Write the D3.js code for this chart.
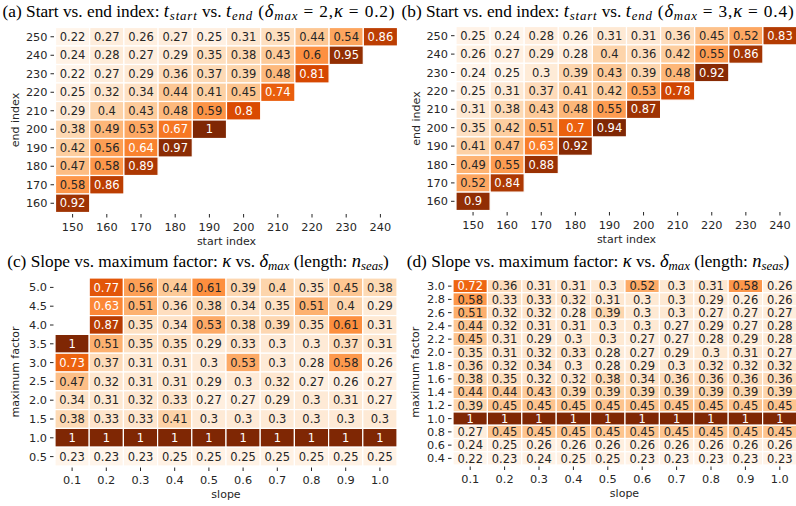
<!DOCTYPE html>
<html>
<head>
<meta charset="utf-8">
<script src="https://cdn.jsdelivr.net/npm/d3@7"></script>
<style>
body { margin: 0; background: #fff; }
text { font-family: "DejaVu Sans", sans-serif; }
text.title { font-family: "Liberation Serif", serif; }
</style>
</head>
<body>
<svg id="fig" width="796" height="506"></svg>
<script>
// ---- data ----
const startIndex = [150, 160, 170, 180, 190, 200, 210, 220, 230, 240]
const endIndex = [250, 240, 230, 220, 210, 200, 190, 180, 170, 160]

// rows = end index (top to bottom), cols = start index; missing cells left out
const indexA = [
    [0.22, 0.27, 0.26, 0.27, 0.25, 0.31, 0.35, 0.44, 0.54, 0.86],
    [0.24, 0.28, 0.27, 0.29, 0.35, 0.38, 0.43, 0.6, 0.95],
    [0.22, 0.27, 0.29, 0.36, 0.37, 0.39, 0.48, 0.81],
    [0.25, 0.32, 0.34, 0.44, 0.41, 0.45, 0.74],
    [0.29, 0.4, 0.43, 0.48, 0.59, 0.8],
    [0.38, 0.49, 0.53, 0.67, 1],
    [0.42, 0.56, 0.64, 0.97],
    [0.47, 0.58, 0.89],
    [0.58, 0.86],
    [0.92]
]
const indexB = [
    [0.25, 0.24, 0.28, 0.26, 0.31, 0.31, 0.36, 0.45, 0.52, 0.83],
    [0.26, 0.27, 0.29, 0.28, 0.4, 0.36, 0.42, 0.55, 0.86],
    [0.24, 0.25, 0.3, 0.39, 0.43, 0.39, 0.48, 0.92],
    [0.25, 0.31, 0.37, 0.41, 0.42, 0.53, 0.78],
    [0.31, 0.38, 0.43, 0.48, 0.55, 0.87],
    [0.35, 0.42, 0.51, 0.7, 0.94],
    [0.41, 0.47, 0.63, 0.92],
    [0.49, 0.55, 0.88],
    [0.52, 0.84],
    [0.9]
]

const slopes = [0.1, 0.2, 0.3, 0.4, 0.5, 0.6, 0.7, 0.8, 0.9, 1.0]
const factorsC = [5.0, 4.5, 4.0, 3.5, 3.0, 2.5, 2.0, 1.5, 1.0, 0.5]
const factorsD = [3.0, 2.8, 2.6, 2.4, 2.2, 2.0, 1.8, 1.6, 1.4, 1.2, 1.0, 0.8, 0.6, 0.4]

const slopeC = [
    [null, 0.77, 0.56, 0.44, 0.61, 0.39, 0.4, 0.35, 0.45, 0.38],
    [null, 0.63, 0.51, 0.36, 0.38, 0.34, 0.35, 0.51, 0.4, 0.29],
    [null, 0.87, 0.35, 0.34, 0.53, 0.38, 0.39, 0.35, 0.61, 0.31],
    [1, 0.51, 0.35, 0.35, 0.29, 0.33, 0.3, 0.3, 0.37, 0.31],
    [0.73, 0.37, 0.31, 0.31, 0.3, 0.53, 0.3, 0.28, 0.58, 0.26],
    [0.47, 0.32, 0.31, 0.31, 0.29, 0.3, 0.32, 0.27, 0.26, 0.27],
    [0.34, 0.31, 0.32, 0.33, 0.27, 0.27, 0.29, 0.3, 0.31, 0.27],
    [0.38, 0.33, 0.33, 0.41, 0.3, 0.3, 0.3, 0.3, 0.3, 0.3],
    [1, 1, 1, 1, 1, 1, 1, 1, 1, 1],
    [0.23, 0.23, 0.23, 0.25, 0.25, 0.25, 0.25, 0.25, 0.25, 0.25]
]
const slopeD = [
    [0.72, 0.36, 0.31, 0.31, 0.3, 0.52, 0.3, 0.31, 0.58, 0.26],
    [0.58, 0.33, 0.33, 0.32, 0.31, 0.3, 0.3, 0.29, 0.26, 0.26],
    [0.51, 0.32, 0.32, 0.28, 0.39, 0.3, 0.3, 0.27, 0.27, 0.27],
    [0.44, 0.32, 0.31, 0.31, 0.3, 0.3, 0.27, 0.29, 0.27, 0.28],
    [0.45, 0.31, 0.29, 0.3, 0.3, 0.27, 0.27, 0.28, 0.29, 0.28],
    [0.35, 0.31, 0.32, 0.33, 0.28, 0.27, 0.29, 0.3, 0.31, 0.27],
    [0.36, 0.32, 0.34, 0.3, 0.28, 0.29, 0.3, 0.32, 0.32, 0.32],
    [0.38, 0.35, 0.32, 0.32, 0.38, 0.34, 0.36, 0.36, 0.36, 0.36],
    [0.44, 0.44, 0.43, 0.39, 0.39, 0.39, 0.39, 0.39, 0.39, 0.39],
    [0.39, 0.45, 0.45, 0.45, 0.45, 0.45, 0.45, 0.45, 0.45, 0.45],
    [1, 1, 1, 1, 1, 1, 1, 1, 1, 1],
    [0.27, 0.45, 0.45, 0.45, 0.45, 0.45, 0.45, 0.45, 0.45, 0.45],
    [0.24, 0.25, 0.26, 0.26, 0.26, 0.26, 0.26, 0.26, 0.26, 0.26],
    [0.22, 0.23, 0.24, 0.25, 0.25, 0.23, 0.23, 0.23, 0.23, 0.23]
]

// matplotlib "Oranges" stops
const oranges = ["#fff5eb", "#fee6ce", "#fdd0a2", "#fdae6b", "#fd8d3c",
    "#f16913", "#d94801", "#a63603", "#7f2704"]

const svg = d3.select("#fig")
const annot = d3.format(".2~g")

// relative luminance like matplotlib, to pick text colour like seaborn
function luminance(c) {
    const rgb = d3.rgb(c)
    const lin = v => {
        v = v / 255
        return v <= 0.03928 ? v / 12.92 : Math.pow((v + 0.055) / 1.055, 2.4)
    }
    return 0.2126 * lin(rgb.r) + 0.7152 * lin(rgb.g) + 0.0722 * lin(rgb.b)
}

function heatmap(o) {
    const g = svg.append("g")
    const x = d3.scaleBand().domain(o.cols).range([o.x0, o.x1])
    const y = d3.scaleBand().domain(o.rows).range([o.y0, o.y1])

    const cells = []
    o.values.forEach((row, i) => {
        row.forEach((v, j) => {
            if (v != null) cells.push({ r: o.rows[i], c: o.cols[j], v: v })
        })
    })
    const ext = d3.extent(cells, d => d.v)
    const color = d3.scaleLinear()
        .domain(d3.range(9).map(k => ext[0] + (ext[1] - ext[0]) * k / 8))
        .range(oranges)

    g.selectAll("rect")
        .data(cells)
        .enter()
        .append("rect")
        .attr("x", d => x(d.c))
        .attr("y", d => y(d.r))
        .attr("width", x.bandwidth())
        .attr("height", y.bandwidth())
        .attr("fill", d => color(d.v))
        .attr("stroke", "#fff")
        .attr("stroke-width", 1.2)

    g.selectAll("text.val")
        .data(cells)
        .enter()
        .append("text")
        .attr("class", "val")
        .attr("x", d => x(d.c) + x.bandwidth() / 2)
        .attr("y", d => y(d.r) + y.bandwidth() / 2)
        .attr("dy", "0.36em")
        .attr("text-anchor", "middle")
        .style("font-size", "11.5px")
        .attr("fill", d => luminance(color(d.v)) > 0.408 ? "#262626" : "#fff")
        .text(d => annot(d.v))

    // x axis
    const xa = g.append("g")
    o.cols.forEach(c => {
        const cx = x(c) + x.bandwidth() / 2
        xa.append("line")
            .attr("x1", cx).attr("x2", cx)
            .attr("y1", o.y1 + 1.5).attr("y2", o.y1 + 5)
            .attr("stroke", "#262626").attr("stroke-width", 1)
        xa.append("text")
            .attr("x", cx).attr("y", o.y1 + 14)
            .attr("dy", "0.36em")
            .attr("text-anchor", "middle")
            .style("font-size", "11.3px")
            .attr("fill", "#262626")
            .text(o.colFmt(c))
    })
    // y axis
    o.rows.forEach(r => {
        const cy = y(r) + y.bandwidth() / 2
        xa.append("line")
            .attr("x1", o.x0 - 5).attr("x2", o.x0 - 1.5)
            .attr("y1", cy).attr("y2", cy)
            .attr("stroke", "#262626").attr("stroke-width", 1)
        xa.append("text")
            .attr("x", o.x0 - 8).attr("y", cy)
            .attr("dy", "0.36em")
            .attr("text-anchor", "end")
            .style("font-size", "11.3px")
            .attr("fill", "#262626")
            .text(o.rowFmt(r))
    })

    g.append("text")
        .attr("x", (o.x0 + Math.min(o.x1, 796)) / 2 + (o.xLabelShift || 0))
        .attr("y", o.y1 + 28.5)
        .attr("dy", "0.36em")
        .attr("text-anchor", "middle")
        .style("font-size", "11px")
        .attr("fill", "#262626")
        .text(o.xLabel)
    g.append("text")
        .attr("transform", `translate(${o.yLabelX},${(o.y0 + o.y1) / 2}) rotate(-90)`)
        .attr("dy", "0.36em")
        .attr("text-anchor", "middle")
        .style("font-size", "11px")
        .attr("fill", "#262626")
        .text(o.yLabel)

    // title: roman text fixed, math pieces get the leftover width as spacing
    const t = svg.append("text")
        .attr("class", "title")
        .attr("x", o.tx).attr("y", o.ty)
        .attr("text-anchor", "middle")
        .attr("fill", "#000")
    let lowered = false
    const mathSpans = []
    o.title.forEach(p => {
        const s = t.append("tspan").text(p.t)
        let size = 17.3
        if (p.i) { s.style("font-style", "italic"); size = 18.5 }
        if (p.m) size = 17.3
        if (p.sub) {
            s.style("font-style", "italic")
            size = 12.8
            if (!lowered) { s.attr("dy", 3.8); lowered = true }
        } else if (lowered) {
            s.attr("dy", -3.8); lowered = false
        }
        s.style("font-size", size + "px")
        if (p.i || p.m || p.sub) mathSpans.push(s)
    })
    const extra = o.tw - t.node().getComputedTextLength()
    const nChars = d3.sum(mathSpans, s => s.text().length)
    if (extra > 0) {
        mathSpans.forEach(s => s.style("letter-spacing", (extra / nChars) + "px"))
    }
}

const fmtInt = d3.format("d")
const fmt1 = d3.format(".1f")

const titleIndex = (tag, dm, kap) => [
    { t: `(${tag}) Start vs. end index: ` }, { t: "t", i: 1 }, { t: "start", sub: 1 },
    { t: " vs. " }, { t: "t", i: 1 }, { t: "end", sub: 1 },
    { t: " (", m: 1 }, { t: "δ", i: 1 }, { t: "max", sub: 1 },
    { t: ` = ${dm},`, m: 1 }, { t: "κ", i: 1 }, { t: ` = ${kap})`, m: 1 }
]
const titleSlope = tag => [
    { t: `(${tag}) Slope vs. maximum factor: ` }, { t: "κ", i: 1 }, { t: " vs. " },
    { t: "δ", i: 1 }, { t: "max", sub: 1 }, { t: " (length: " },
    { t: "n", i: 1 }, { t: "seas", sub: 1 }, { t: ")" }
]

heatmap({
    x0: 55.5, x1: 397.5, y0: 27.5, y1: 212.5,
    cols: startIndex, rows: endIndex, values: indexA,
    colFmt: fmtInt, rowFmt: fmtInt,
    xLabel: "start index", yLabel: "end index", yLabelX: 15,
    title: titleIndex("a", 2, 0.2), tx: 199, ty: 16.5, tw: 393
})
heatmap({
    x0: 456, x1: 797, y0: 26.5, y1: 210.5,
    cols: startIndex, rows: endIndex, values: indexB,
    colFmt: fmtInt, rowFmt: fmtInt,
    xLabel: "start index", yLabel: "end index", yLabelX: 416.5, xLabelShift: 0.5,
    title: titleIndex("b", 3, 0.4), tx: 598, ty: 16.5, tw: 393
})
heatmap({
    x0: 55, x1: 397, y0: 278, y1: 466,
    cols: slopes, rows: factorsC, values: slopeC,
    colFmt: fmt1, rowFmt: fmt1,
    xLabel: "slope", yLabel: "maximum factor", yLabelX: 15,
    title: titleSlope("c"), tx: 198, ty: 266.5, tw: 378
})
heatmap({
    x0: 453, x1: 797, y0: 279.5, y1: 465,
    cols: slopes, rows: factorsD, values: slopeD,
    colFmt: fmt1, rowFmt: fmt1,
    xLabel: "slope", yLabel: "maximum factor", yLabelX: 415,
    title: titleSlope("d"), tx: 598, ty: 266.5, tw: 378
})
</script>
</body>
</html>
